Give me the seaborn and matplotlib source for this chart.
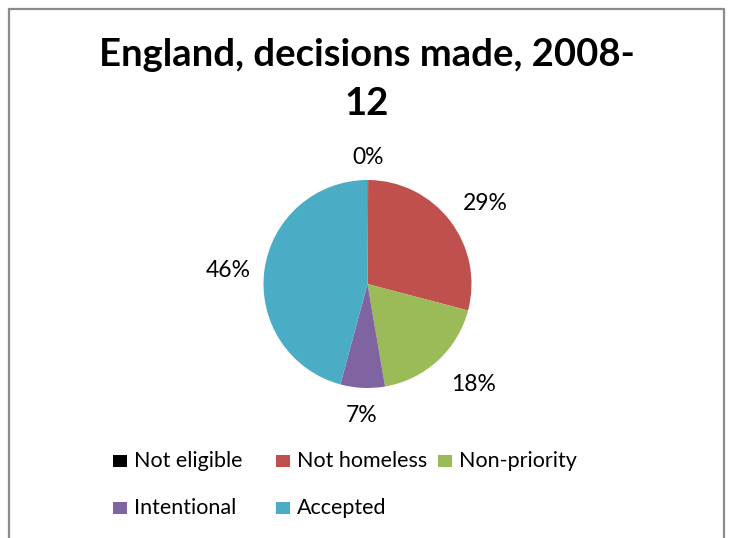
import numpy as np
import matplotlib
matplotlib.use("Agg")
import matplotlib.pyplot as plt
from matplotlib.patches import Rectangle
import seaborn as sns

# Homelessness decisions in England, 2008-12 (share of all decisions, %)
categories = ["Not eligible", "Not homeless", "Non-priority", "Intentional", "Accepted"]
shares = [0.1, 29.0, 18.2, 6.9, 45.8]
colors = ["#000000", "#C0504D", "#9BBB59", "#8064A2", "#4BACC6"]
title_lines = ["England, decisions made, 2008-", "12"]

sns.set_theme(style="white")
plt.rcParams["font.family"] = ["Lato", "DejaVu Sans"]

W, H = 731, 538
fig = plt.figure(figsize=(W / 100, H / 100), dpi=100)
fig.patch.set_facecolor("white")


def fx(px):
    return px / W


def fy(py):
    return 1 - py / H


# chart-area frame
fig.patches.append(Rectangle((fx(8.5), -0.05), fx(724 - 8.5), 1.05 - 8.5 / H,
                             transform=fig.transFigure, fill=False,
                             edgecolor="#8c8c8c", linewidth=1.6))

# wrapped title, one baseline per line
for line, base in zip(title_lines, [66, 115]):
    fig.text(fx(367), fy(base), line, ha="center", va="baseline",
             fontsize=27.5, fontweight="bold", color="black")

# pie: centre (367, 284) px, radius 104 px
cx, cy, r = 367.5, 284, 104
ax = fig.add_axes([fx(cx - r), fy(cy + r), fx(2 * r), 2 * r / H])
palette = sns.color_palette(colors)
wedges, _ = ax.pie(shares, colors=palette, startangle=90, counterclock=False,
                   radius=1, wedgeprops=dict(linewidth=0))
ax.set_xlim(-1, 1)
ax.set_ylim(-1, 1)
ax.set_aspect("equal")
ax.axis("off")

# data labels: radial distance and small angular nudge for each wedge
label_dist = [1.22, 1.37, 1.41, 1.27, 1.35]
label_shift = [0, -3, 4, 0, 2]
total = sum(shares)
for w, v, d, s in zip(wedges, shares, label_dist, label_shift):
    mid = np.deg2rad((w.theta1 + w.theta2) / 2 + s)
    ax.text(d * np.cos(mid), d * np.sin(mid), f"{v / total * 100:.0f}%",
            ha="center", va="center", fontsize=16.5, color="black", clip_on=False)

# legend: two rows, entries laid out left to right (marker left edge, baseline)
legend_pos = [(113, 467), (276, 467), (438, 467), (113, 514), (276, 514)]
sq = 13.5
for (px, py), c, name in zip(legend_pos, colors, categories):
    fig.patches.append(Rectangle((fx(px), fy(py)), fx(sq), (sq - 1) / H,
                                 transform=fig.transFigure, facecolor=c,
                                 edgecolor="none"))
    fig.text(fx(px + sq + 7.5), fy(py), name, ha="left", va="baseline",
             fontsize=15.5, color="black")

fig.savefig("out.png", dpi=100)
